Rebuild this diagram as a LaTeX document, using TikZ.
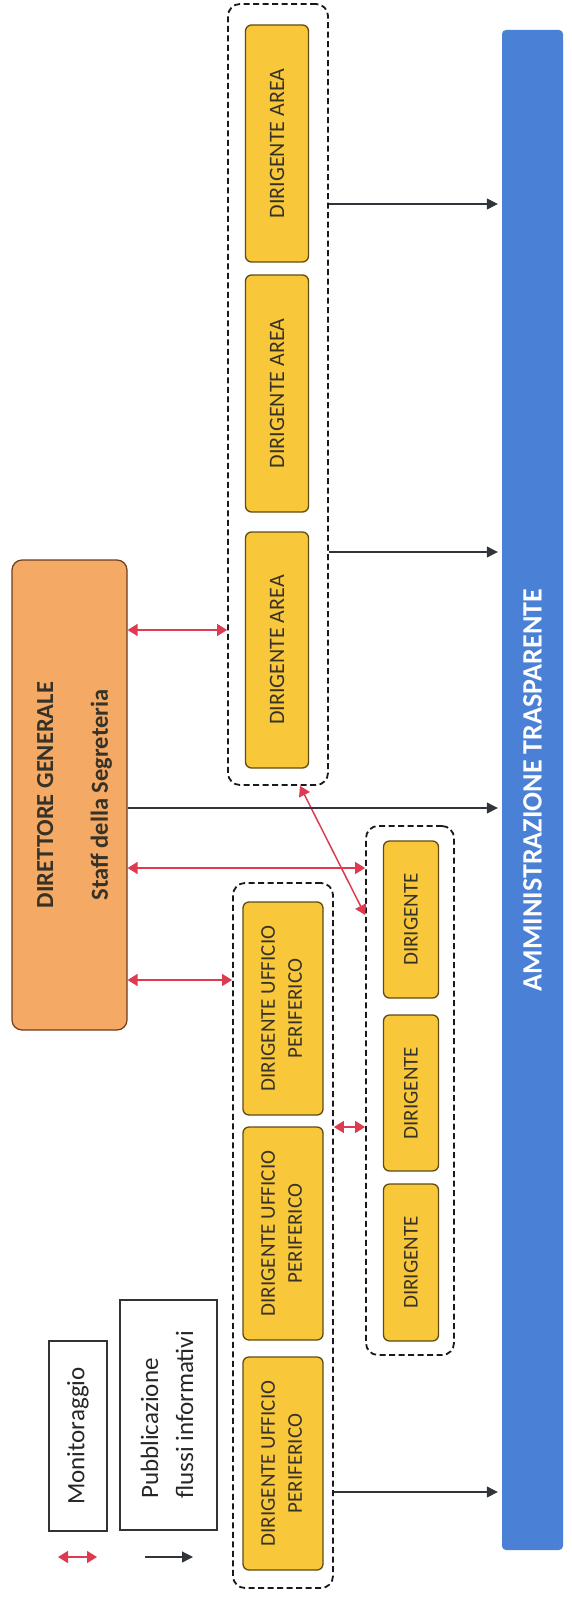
\documentclass[tikz,border=0pt]{standalone}
\usepackage{fontspec}
\setmainfont{Carlito}
\usetikzlibrary{arrows.meta}
\definecolor{dgorange}{RGB}{244,170,100}
\definecolor{dgline}{RGB}{110,60,30}
\definecolor{boxyellow}{RGB}{249,200,58}
\definecolor{boxline}{RGB}{95,75,20}
\definecolor{barblue}{RGB}{74,128,214}
\definecolor{monred}{RGB}{222,58,82}
\definecolor{pubgray}{RGB}{50,52,60}
\definecolor{textgray}{RGB}{55,50,40}

\begin{document}
\begin{tikzpicture}[x=1pt,y=-1pt,
    box/.style={draw=boxline, line width=1.3pt, rounded corners=6pt, fill=boxyellow,
      inner sep=0pt, text=textgray},
    group/.style={draw=black!90, line width=1.8pt, dash pattern=on 6pt off 3.5pt,
      rounded corners=12pt, inner sep=0pt},
    mon/.style={draw=monred, line width=1.5pt,
      arrows={Triangle[length=10pt,width=12pt]-Triangle[length=10pt,width=12pt]}},
    pub/.style={draw=pubgray, line width=1.3pt, arrows={-Triangle[length=11pt,width=11pt]}},
    legbox/.style={draw=black!80, line width=1.3pt, inner sep=0pt, text=black!85,
      font=\fontsize{25}{35}\selectfont}]
  \useasboundingbox (0,0) rectangle (571,1597);

  % direzione
  \node[draw=dgline, line width=1.2pt, fill=dgorange, rounded corners=10pt, inner sep=0pt,
    minimum width=115pt, minimum height=470pt, text=textgray,
    font=\bfseries\fontsize{24.5}{55}\selectfont] (dg) at (69.5,795)
    {\rotatebox{90}{\begin{tabular}{@{}c@{}}DIRETTORE GENERALE\\Staff della Segreteria\end{tabular}}};

  % dirigenti di area
  \node[group, minimum width=100pt, minimum height=781pt] (grpA) at (278,394.5) {};
  \node[box, minimum width=63pt, minimum height=237pt, font=\fontsize{22}{26}\selectfont]
    (a1) at (277,143.5) {\rotatebox{90}{DIRIGENTE AREA}};
  \node[box, minimum width=63pt, minimum height=237pt, font=\fontsize{22}{26}\selectfont]
    (a2) at (277,393.5) {\rotatebox{90}{DIRIGENTE AREA}};
  \node[box, minimum width=63pt, minimum height=236pt, font=\fontsize{22}{26}\selectfont]
    (a3) at (277,650) {\rotatebox{90}{DIRIGENTE AREA}};

  % uffici periferici
  \node[group, minimum width=100pt, minimum height=705pt] (grpU) at (283,1235.5) {};
  \node[box, minimum width=80pt, minimum height=213pt, font=\fontsize{21}{27}\selectfont]
    (u1) at (283,1008.5) {\rotatebox{90}{\begin{tabular}{@{}c@{}}DIRIGENTE UFFICIO\\PERIFERICO\end{tabular}}};
  \node[box, minimum width=80pt, minimum height=213pt, font=\fontsize{21}{27}\selectfont]
    (u2) at (283,1233.5) {\rotatebox{90}{\begin{tabular}{@{}c@{}}DIRIGENTE UFFICIO\\PERIFERICO\end{tabular}}};
  \node[box, minimum width=80pt, minimum height=213pt, font=\fontsize{21}{27}\selectfont]
    (u3) at (283,1463.5) {\rotatebox{90}{\begin{tabular}{@{}c@{}}DIRIGENTE UFFICIO\\PERIFERICO\end{tabular}}};

  % dirigenti
  \node[group, minimum width=88pt, minimum height=529pt] (grpD) at (410,1090.5) {};
  \node[box, minimum width=55pt, minimum height=157pt, font=\fontsize{21}{26}\selectfont]
    (d1) at (411,919.5) {\rotatebox{90}{DIRIGENTE}};
  \node[box, minimum width=55pt, minimum height=156pt, font=\fontsize{21}{26}\selectfont]
    (d2) at (411,1093) {\rotatebox{90}{DIRIGENTE}};
  \node[box, minimum width=55pt, minimum height=157pt, font=\fontsize{21}{26}\selectfont]
    (d3) at (411,1262.5) {\rotatebox{90}{DIRIGENTE}};

  % amministrazione trasparente
  \node[fill=barblue, rounded corners=4pt, inner sep=0pt, minimum width=61pt,
    minimum height=1520pt, text=white, font=\bfseries\fontsize{28}{32}\selectfont]
    (bar) at (532.5,790) {\rotatebox{90}{AMMINISTRAZIONE TRASPARENTE}};

  % legenda
  \node[legbox, minimum width=58pt, minimum height=190pt] (legM) at (78,1436)
    {\rotatebox{90}{Monitoraggio}};
  \node[legbox, minimum width=97pt, minimum height=230pt] (legP) at (168.5,1415)
    {\rotatebox{90}{\begin{tabular}{@{}l@{}}Pubblicazione\\flussi informativi\end{tabular}}};
  \coordinate (lm1) at (58,1557);
  \coordinate (lm2) at (97,1557);
  \coordinate (lp1) at (145,1557);
  \coordinate (lp2) at (193,1557);
  \draw[mon] (lm1) -- (lm2);
  \draw[pub] (lp1) -- (lp2);

  % monitoraggio
  \draw[mon] (dg.east |- 0,630) -- (grpA.west |- 0,630);
  \draw[mon] (dg.east |- 0,868) -- (grpD.west |- 0,868);
  \draw[mon] (dg.east |- 0,980) -- (grpU.west |- 0,980);
  \draw[mon] (grpU.east |- 0,1127) -- (grpD.west |- 0,1127);
  \draw[mon] (grpA.south -| 300,0) -- (grpD.west |- 0,915);

  % pubblicazione
  \draw[pub, shorten >=4pt] (grpA.east |- 0,204) -- (bar.west |- 0,204);
  \draw[pub, shorten >=4pt] (grpA.east |- 0,552) -- (bar.west |- 0,552);
  \draw[pub, shorten >=4pt] (dg.east |- 0,808) -- (bar.west |- 0,808);
  \draw[pub, shorten >=4pt] (grpU.east |- 0,1492) -- (bar.west |- 0,1492);
\end{tikzpicture}
\end{document}
